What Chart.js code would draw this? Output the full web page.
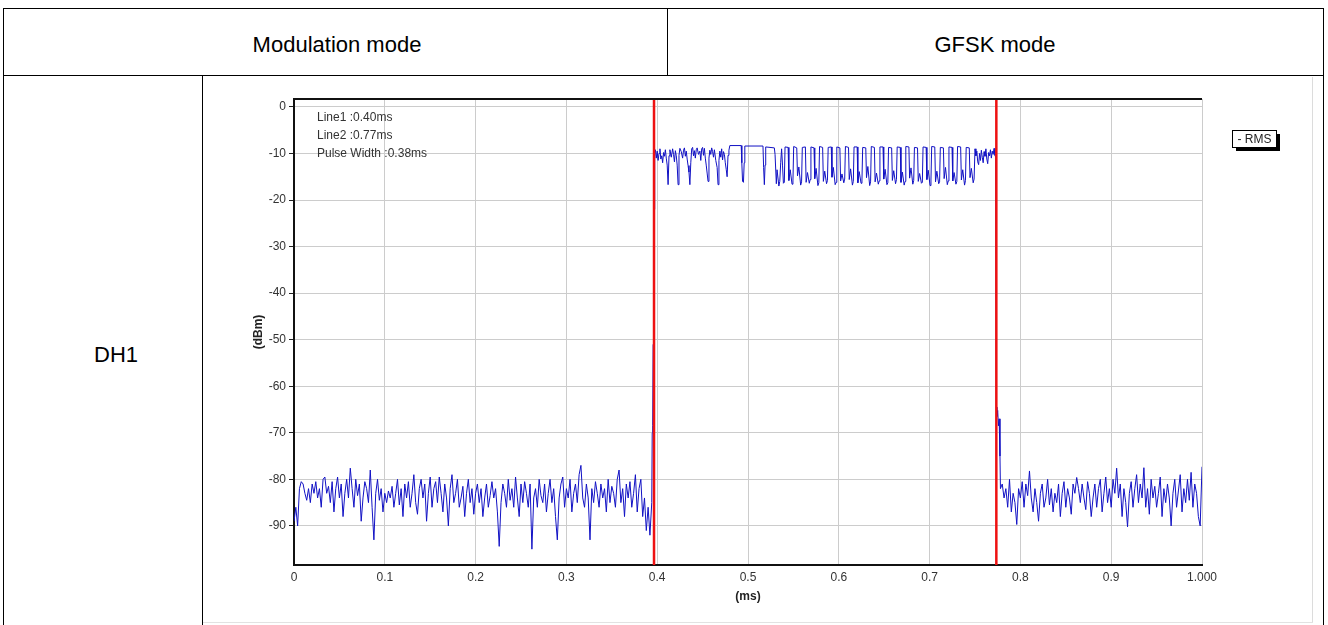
<!DOCTYPE html>
<html>
<head>
<meta charset="utf-8">
<script src="https://cdn.jsdelivr.net/npm/chart.js@4/dist/chart.umd.min.js"></script>
<style>
  body { margin:0; background:#fff; }
  #page { position:relative; width:1328px; height:625px; overflow:hidden; background:#fff; font-family:"Liberation Sans", Arial, sans-serif; }
  .ln { position:absolute; background:#000; }
  .txt { position:absolute; font-size:22px; color:#000; white-space:nowrap; }
  #wrap { position:absolute; left:203px; top:77px; width:1117px; height:546px; }
</style>
</head>
<body>
<div id="page">
  <div class="ln" style="left:3px;top:8px;width:1321px;height:1px"></div>
  <div class="ln" style="left:3px;top:8px;width:1px;height:620px"></div>
  <div class="ln" style="left:1323px;top:8px;width:1px;height:620px"></div>
  <div class="ln" style="left:3px;top:75px;width:1321px;height:1px"></div>
  <div class="ln" style="left:667px;top:8px;width:1px;height:67px"></div>
  <div class="ln" style="left:202px;top:75px;width:1px;height:560px"></div>
  <div class="ln" style="left:1312px;top:77px;width:1px;height:546px;background:#dcdcdc"></div>
  <div class="ln" style="left:203px;top:622px;width:1110px;height:1px;background:#e2e2e2"></div>
  <div class="txt" id="h1" style="left:5px;width:664px;text-align:center;top:32px">Modulation mode</div>
  <div class="txt" id="h2" style="left:667px;width:656px;text-align:center;top:32px">GFSK mode</div>
  <div class="txt" id="rowLabel" style="left:94px;top:342px">DH1</div>
  <div id="wrap"><canvas id="c" width="1117" height="546"></canvas></div>
</div>
<script>
// ---------- data ----------
const xTickValues = [0, 0.1, 0.2, 0.3, 0.4, 0.5, 0.6, 0.7, 0.8, 0.9, 1.0];
const xTickLabels = ["0", "0.1", "0.2", "0.3", "0.4", "0.5", "0.6", "0.7", "0.8", "0.9", "1.000"];
const yTickValues = [0, -10, -20, -30, -40, -50, -60, -70, -80, -90];
const yTickLabels = ["0", "-10", "-20", "-30", "-40", "-50", "-60", "-70", "-80", "-90"];
const xTitle = "(ms)";
const yTitle = "(dBm)";
const legendLabel = "- RMS";
const annotationLines = ["Line1 :0.40ms", "Line2 :0.77ms", "Pulse Width :0.38ms"];
const markerTimes = [0.3965, 0.7735];   // Line1, Line2 (ms)

// noise floor before the burst: samples every 0.002 ms from 0 ms
const noiseStep = 0.002;
const noiseStart1 = 0;
const noiseBefore = [
  -89, -86, -90, -82, -80.5, -81, -83, -84.5, -82, -85,
  -81, -83, -80.5, -84, -82, -86, -80, -79.5, -83, -81.5,
  -85, -80.5, -87, -82, -79.5, -84, -81, -88, -83, -80,
  -84, -77.6, -82, -86, -80, -83.5, -81, -89, -84, -80.5,
  -82, -85, -78, -86, -93, -83, -80, -84.5, -82, -87,
  -83, -85, -82.5, -84, -81.5, -86, -83, -80, -85.5, -82,
  -88, -81, -84, -80.5, -86, -83, -79, -85, -87.5, -82,
  -80, -84, -81, -89, -83, -79.5, -86, -82, -80.5, -85,
  -79.5, -83, -87, -81, -84, -90, -82, -79, -85, -83,
  -80, -86, -84, -81.5, -88, -83, -80, -85, -82, -87.5,
  -83, -81, -85, -82, -88, -84, -81, -86, -83.5, -80.5,
  -84, -82, -87, -94.4, -85, -81, -83, -86, -80, -84.5,
  -82, -86, -79.5, -84, -88, -81, -85, -80.5, -83, -86,
  -81, -95, -84, -82, -86, -80, -83.5, -85, -81, -87,
  -83, -80, -85, -82, -88, -93, -84, -81, -79.5, -86,
  -82, -84, -80, -87, -83, -81, -85, -79, -77, -84,
  -86, -81, -84, -93, -82, -85, -80.5, -83, -86, -81,
  -84, -82, -87, -80, -85, -81.5, -83, -86, -80, -78,
  -85, -82, -88, -81, -84, -80.5, -86, -83, -79, -87,
  -82, -80, -88, -84, -91, -86, -92, -85
];

// burst (rise, modulated top, fall): [time ms, level dBm]
const burstTrace = [
  [0.3945,-70],[0.3950,-68.5],[0.3955,-51],[0.3960,-50],[0.3965,-22],[0.3970,-21],[0.3975,-9.5],
  [0.398,-9.2],[0.399,-11],[0.400,-9.5],[0.401,-11.5],[0.402,-10],[0.403,-9.0],[0.404,-11.2],[0.405,-10.5],
  [0.406,-12],[0.407,-9.8],[0.408,-10.6],[0.409,-9.2],[0.410,-11],[0.411,-12.5],[0.412,-16.7],[0.413,-10.5],
  [0.414,-9.2],[0.4155,-10.8],[0.417,-9.0],[0.418,-10.2],[0.419,-11.8],[0.420,-9.4],[0.421,-10.5],[0.422,-12.5],
  [0.423,-16.7],[0.424,-10.4],[0.425,-8.9],[0.4265,-9.6],[0.428,-11],[0.429,-9.3],[0.430,-8.8],[0.431,-10.6],
  [0.432,-9.5],[0.433,-11.2],[0.434,-12.6],[0.435,-14],[0.436,-16.7],[0.437,-12],[0.438,-9.0],[0.439,-8.7],
  [0.440,-10.5],[0.441,-9.4],[0.442,-11],[0.443,-9.2],[0.444,-8.8],[0.4455,-10.2],[0.447,-9.5],[0.448,-11.5],
  [0.449,-9.0],[0.450,-8.7],[0.451,-10.4],[0.452,-8.9],[0.453,-11],[0.454,-12.5],[0.455,-14.2],[0.456,-16],
  [0.457,-11],[0.458,-9.3],[0.459,-10.2],[0.460,-8.8],[0.461,-9.6],[0.462,-10.8],[0.463,-9.2],[0.4645,-11.5],
  [0.466,-13],[0.467,-16.7],[0.468,-11.5],[0.469,-9.5],[0.470,-10.8],[0.471,-9.0],[0.472,-11.4],[0.473,-9.6],
  [0.474,-10.2],[0.475,-12],[0.476,-13.4],[0.477,-15],[0.478,-10.4],[0.479,-9.3],
  [0.480,-8.3],[0.4925,-8.3],[0.4932,-12],[0.494,-16],[0.495,-16.2],[0.4958,-12],[0.4965,-8.4],[0.5165,-8.4],
  [0.5172,-13],[0.518,-16.7],[0.5188,-12.5],[0.5195,-8.6],[0.529,-8.8],[0.5298,-10.2],[0.5305,-10.2],[0.5312,-16.5],
  [0.532,-13.5],[0.533,-13.5],[0.534,-17],[0.535,-16],[0.536,-12],[0.537,-9],[0.538,-12.5],[0.539,-16.4],
  [0.5400,-16.2],[0.5408,-8.6],[0.5442,-8.7],[0.5450,-15.8],[0.5465,-13.5],[0.5485,-16.6],
  [0.5495,-15.9],[0.5503,-8.5],[0.5537,-8.8],[0.5545,-14.8],[0.5560,-12.9],[0.5580,-16.8],
  [0.5590,-16.1],[0.5598,-8.7],[0.5632,-8.6],[0.5640,-16.2],[0.5655,-14.1],[0.5675,-16.4],
  [0.5685,-15.6],[0.5693,-8.6],[0.5727,-8.8],[0.5735,-15.4],[0.5750,-13.2],[0.5770,-16.9],
  [0.5780,-16.3],[0.5788,-8.5],[0.5822,-8.7],[0.5830,-16.0],[0.5845,-13.8],[0.5865,-16.5],
  [0.5875,-15.8],[0.5883,-8.7],[0.5917,-8.6],[0.5925,-15.1],[0.5940,-13.0],[0.5960,-16.7],
  [0.5970,-16.2],[0.5978,-8.6],[0.6012,-8.8],[0.6020,-15.9],[0.6035,-14.4],[0.6055,-16.3],
  [0.6065,-15.5],[0.6073,-8.5],[0.6107,-8.7],[0.6115,-15.6],[0.6130,-13.3],[0.6150,-16.8],
  [0.6160,-16.0],[0.6168,-8.6],[0.6202,-8.6],[0.6210,-16.3],[0.6225,-13.9],[0.6245,-16.4],
  [0.6255,-15.7],[0.6263,-8.7],[0.6297,-8.8],[0.6305,-15.2],[0.6320,-12.8],[0.6340,-16.9],
  [0.6350,-16.1],[0.6358,-8.5],[0.6392,-8.7],[0.6400,-16.1],[0.6415,-14.2],[0.6435,-16.6],
  [0.6445,-15.9],[0.6453,-8.6],[0.6487,-8.6],[0.6495,-15.5],[0.6510,-13.4],[0.6530,-16.7],
  [0.6540,-16.3],[0.6548,-8.7],[0.6582,-8.8],[0.6590,-15.8],[0.6605,-13.7],[0.6625,-16.5],
  [0.6635,-15.6],[0.6643,-8.6],[0.6677,-8.7],[0.6685,-16.2],[0.6700,-14.0],[0.6720,-16.8],
  [0.6730,-16.0],[0.6738,-8.5],[0.6772,-8.6],[0.6780,-15.3],[0.6795,-13.1],[0.6815,-16.6],
  [0.6825,-15.8],[0.6833,-8.7],[0.6867,-8.8],[0.6875,-16.0],[0.6890,-14.3],[0.6910,-16.4],
  [0.6920,-16.2],[0.6928,-8.6],[0.6962,-8.7],[0.6970,-15.6],[0.6985,-13.6],[0.7005,-16.9],
  [0.7015,-15.7],[0.7023,-8.5],[0.7057,-8.6],[0.7065,-16.1],[0.7080,-13.8],[0.7100,-16.5],
  [0.7110,-16.1],[0.7118,-8.7],[0.7152,-8.8],[0.7160,-15.4],[0.7175,-13.0],[0.7195,-16.7],
  [0.7205,-15.9],[0.7213,-8.6],[0.7247,-8.7],[0.7255,-15.9],[0.7270,-14.1],[0.7290,-16.6],
  [0.7300,-16.0],[0.7308,-8.5],[0.7342,-8.6],[0.7350,-15.7],[0.7365,-13.5],[0.7385,-16.8],
  [0.7395,-15.8],[0.7403,-8.7],[0.7437,-8.8],[0.7445,-15.2],[0.7460,-13.2],[0.7480,-16.3],
  [0.749,-15.5],[0.750,-9.0],[0.751,-10.5],[0.752,-9.5],[0.753,-11.8],[0.754,-12.4],[0.755,-10],[0.756,-11.5],
  [0.757,-9.3],[0.758,-10.8],[0.759,-12],[0.760,-9.6],[0.761,-10.6],[0.762,-9.0],[0.763,-11.2],[0.764,-12.2],
  [0.765,-9.8],[0.766,-10.5],[0.767,-9.2],[0.768,-11],[0.769,-9.5],[0.770,-10.2],[0.771,-8.9],[0.772,-10.4],
  [0.7728,-10.8],[0.7735,-64.5],[0.7742,-66.5],[0.7750,-65.2],[0.7758,-68.5],[0.7766,-67],[0.7775,-75],[0.7780,-82]
];

// noise floor after the burst: samples every 0.002 ms from 0.780 ms
const noiseStart2 = 0.780;
const noiseAfter = [
  -81, -84, -82, -86, -80, -87, -83, -85, -89.7, -82,
  -84, -80.5, -86, -81, -83.5, -78.2, -84, -87, -82, -85,
  -89, -83, -81, -86, -84, -80, -85.5, -82, -87, -83,
  -85, -81, -88, -83, -80.5, -86, -82, -84, -87.5, -81,
  -83, -79.6, -82, -85, -81, -84, -86.5, -80.5, -83, -88,
  -84, -81, -86, -82, -80, -87, -83, -79.5, -85, -82,
  -86, -80, -83, -77.6, -84, -81, -88, -82, -85, -90.2,
  -83, -80.5, -86, -82, -79, -85, -81, -84, -77.5, -86,
  -82, -87.5, -80, -84, -81.5, -86, -83, -79.5, -88, -82,
  -85, -81, -84, -90, -83, -80, -86, -82.5, -79, -87,
  -82, -85, -80, -84.5, -78.5, -86, -81, -83, -88, -90,
  -77.3
];

const yMin = -98.4, yMax = 1.7;

// ---------- build points ----------
const tracePoints = [];
noiseBefore.forEach((v, i) => tracePoints.push({ x: noiseStart1 + i * noiseStep, y: v }));
burstTrace.forEach(p => tracePoints.push({ x: p[0], y: p[1] }));
noiseAfter.forEach((v, i) => tracePoints.push({ x: noiseStart2 + i * noiseStep, y: v }));

const FONT = '"Liberation Sans", Arial, sans-serif';

const overlay = {
  id: 'overlay',
  afterDraw(chart) {
    const { ctx, chartArea: a } = chart;
    ctx.save();
    // top frame line
    ctx.strokeStyle = '#111'; ctx.lineWidth = 2;
    ctx.beginPath(); ctx.moveTo(a.left - 1, a.top); ctx.lineTo(a.right, a.top); ctx.stroke();
    // annotation block
    ctx.font = '12px ' + FONT; ctx.fillStyle = '#333'; ctx.textAlign = 'left'; ctx.textBaseline = 'middle';
    annotationLines.forEach((s, i) => ctx.fillText(s, a.left + 23, a.top + 18.5 + i * 18.3));
    // axis titles
    ctx.font = 'bold 12px ' + FONT; ctx.fillStyle = '#222'; ctx.textAlign = 'center';
    ctx.fillText(xTitle, (a.left + a.right) / 2, a.bottom + 32);
    ctx.save();
    ctx.translate(a.left - 35, (a.top + a.bottom) / 2);
    ctx.rotate(-Math.PI / 2);
    ctx.fillText(yTitle, 0, 0);
    ctx.restore();
    // legend box with shadow
    const lx = a.right + 30, ly = a.top + 31, lw = 44, lh = 17;
    ctx.fillStyle = '#000'; ctx.fillRect(lx + 4, ly + 4, lw, lh);
    ctx.fillStyle = '#fff'; ctx.fillRect(lx, ly, lw, lh);
    ctx.strokeStyle = '#000'; ctx.lineWidth = 1; ctx.strokeRect(lx + 0.5, ly + 0.5, lw, lh);
    ctx.font = '12px ' + FONT; ctx.fillStyle = '#222'; ctx.textAlign = 'center';
    ctx.fillText(legendLabel, lx + lw / 2 + 0.5, ly + lh / 2 + 1);
    ctx.restore();
  }
};

const markerSets = markerTimes.map(t => ({
  type: 'scatter',
  data: [{ x: t, y: yMin }, { x: t, y: yMax }],
  showLine: true, borderColor: '#ee1111', borderWidth: 2.5, pointRadius: 0, order: 0
}));

new Chart(document.getElementById('c'), {
  type: 'scatter',
  data: {
    datasets: [
      { data: tracePoints, showLine: true, borderColor: '#1111c4', borderWidth: 1, pointRadius: 0, tension: 0, order: 1 },
      ...markerSets
    ]
  },
  options: {
    responsive: false,
    animation: false,
    events: [],
    layout: { padding: { left: 0, top: 22, right: 118, bottom: 0 } },
    plugins: { legend: { display: false }, tooltip: { enabled: false }, title: { display: false } },
    scales: {
      x: {
        type: 'linear', min: 0, max: 1,
        afterBuildTicks: s => { s.ticks = xTickValues.map(v => ({ value: v })); },
        afterFit: s => { s.height = 58; },
        ticks: { callback: (v, i) => xTickLabels[i], font: { family: FONT, size: 12 }, color: '#333', padding: 5, maxRotation: 0, autoSkip: false },
        grid: { color: '#cccccc', drawTicks: false, lineWidth: 1 },
        border: { color: '#111', width: 2 }
      },
      y: {
        type: 'linear', min: yMin, max: yMax,
        afterBuildTicks: s => { s.ticks = yTickValues.map(v => ({ value: v })); },
        afterFit: s => { s.width = 91; },
        ticks: { callback: (v, i) => yTickLabels[i], font: { family: FONT, size: 12 }, color: '#333', padding: 3, autoSkip: false },
        grid: { color: '#cccccc', tickColor: '#222', tickLength: 5, lineWidth: 1 },
        border: { color: '#111', width: 2 }
      }
    }
  },
  plugins: [overlay]
});
</script>
</body>
</html>
